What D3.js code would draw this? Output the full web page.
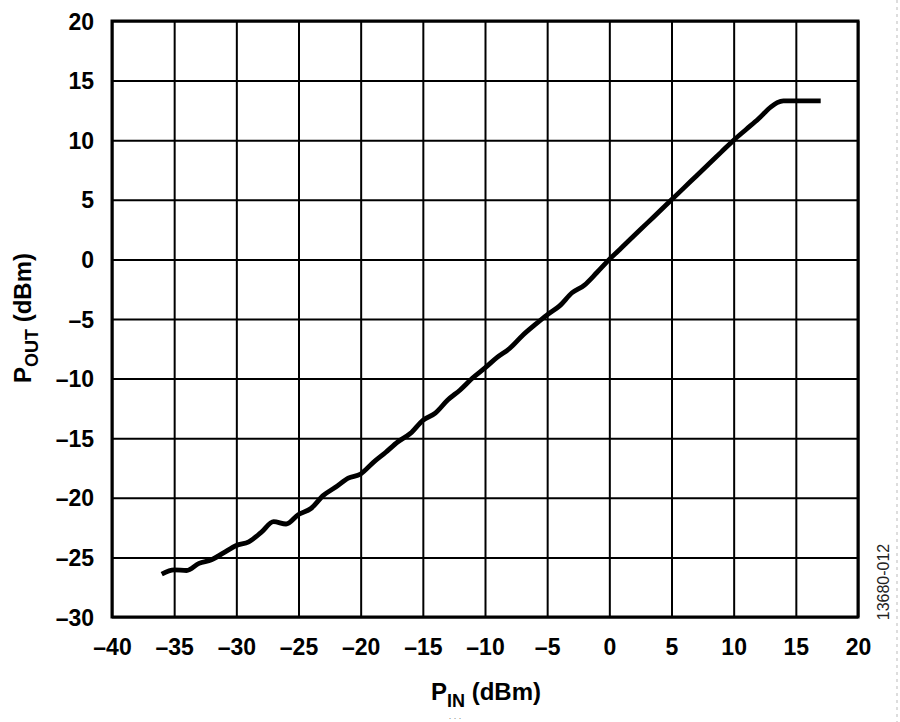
<!DOCTYPE html>
<meta charset="utf-8">
<head>
	<title>POUT vs PIN</title>
</head>

<style>

body {
	margin: 0;
	background: #fff;
}

svg {
	display: block;
	background-color: #fff;
	font-family: "Liberation Sans", Arial, sans-serif;
}

.grid line {
	stroke: #000;
	stroke-width: 2;
}

.grid path {
	display: none;
}

.tick text {
	font-size: 23px;
	font-weight: bold;
	fill: #000;
}

</style>

<body>

<svg class="chart" width="900" height="722"></svg>

<script src="https://cdnjs.cloudflare.com/ajax/libs/d3/7.8.5/d3.min.js"></script>
<script>

// P_IN (dBm) sweep, 1 dB steps
var pin = [
	-36, -35, -34, -33, -32, -31, -30, -29, -28, -27,
	-26, -25, -24, -23, -22, -21, -20, -19, -18, -17,
	-16, -15, -14, -13, -12, -11, -10, -9, -8, -7,
	-6, -5, -4, -3, -2, -1, 0, 1, 2, 3,
	4, 5, 6, 7, 8, 9, 10, 11, 12, 13,
	13.5, 14, 15, 16, 17
];

// P_OUT (dBm)
var pout = [
	-26.4, -26.05, -26.1, -25.5, -25.2, -24.6, -24.0, -23.7, -22.9, -22.0,
	-22.2, -21.4, -20.9, -19.8, -19.1, -18.35, -18.0, -17.05, -16.2, -15.3,
	-14.6, -13.5, -12.9, -11.8, -10.95, -9.95, -9.1, -8.2, -7.45, -6.4,
	-5.5, -4.65, -3.9, -2.8, -2.15, -1.1, 0.0, 1.0, 2.0, 3.0,
	4.0, 5.0, 6.0, 7.0, 8.0, 9.0, 10.0, 10.9, 11.8, 12.8,
	13.15, 13.3, 13.3, 13.3, 13.3
];

var xTicks = [-40, -35, -30, -25, -20, -15, -10, -5, 0, 5, 10, 15, 20];
var yTicks = [-30, -25, -20, -15, -10, -5, 0, 5, 10, 15, 20];

var margin = {top: 21, right: 42, bottom: 105, left: 112};
var svg = d3.select('.chart');
var width = +svg.attr('width') - margin.left - margin.right;
var height = +svg.attr('height') - margin.top - margin.bottom;

var x = d3.scaleLinear().domain([-40, 20]).range([0, width]);
var y = d3.scaleLinear().domain([-30, 20]).range([height, 0]);

var fmt = function(d) { return d < 0 ? '\u2013' + Math.abs(d) : String(d); };

var g = svg.append('g')
	.attr('transform', 'translate(' + margin.left + ',' + margin.top + ')');

// vertical grid + x tick labels
g.append('g')
	.attr('class', 'grid')
	.attr('transform', 'translate(0,' + height + ')')
	.call(d3.axisBottom(x).tickValues(xTicks).tickSize(-height).tickPadding(20).tickFormat(fmt))
	.selectAll('text')
	.attr('dy', '0.78em');

// horizontal grid + y tick labels
g.append('g')
	.attr('class', 'grid')
	.call(d3.axisLeft(y).tickValues(yTicks).tickSize(-width).tickPadding(18).tickFormat(fmt))
	.selectAll('text')
	.attr('dy', '0.35em');

// frame
g.append('rect')
	.attr('width', width)
	.attr('height', height)
	.attr('fill', 'none')
	.attr('stroke', '#000')
	.attr('stroke-width', 3);

// curve
var line = d3.line()
	.x(function(d, i) { return x(pin[i]); })
	.y(function(d) { return y(d); })
	.curve(d3.curveMonotoneX);

g.append('path')
	.datum(pout)
	.attr('fill', 'none')
	.attr('stroke', '#000')
	.attr('stroke-width', 4.8)
	.attr('stroke-linejoin', 'round')
	.attr('d', line);

// axis titles
var xt = svg.append('text')
	.attr('x', 486)
	.attr('y', 700)
	.attr('text-anchor', 'middle')
	.style('font-size', '24px')
	.style('font-weight', 'bold');
xt.append('tspan').text('P');
xt.append('tspan').attr('dy', 7).style('font-size', '18px').text('IN');
xt.append('tspan').attr('dy', -7).text(' (dBm)');

var yt = svg.append('text')
	.attr('transform', 'translate(31,318) rotate(-90)')
	.attr('text-anchor', 'middle')
	.style('font-size', '24px')
	.style('font-weight', 'bold');
yt.append('tspan').text('P');
yt.append('tspan').attr('dy', 7).style('font-size', '18px').text('OUT');
yt.append('tspan').attr('dy', -7).text(' (dBm)');

// figure id
svg.append('text')
	.attr('transform', 'translate(889,582) rotate(-90)')
	.attr('text-anchor', 'middle')
	.style('font-size', '16px')
	.style('fill', '#222')
	.text('13680-012');

// dashed page edge on the right
svg.append('line')
	.attr('x1', 897).attr('x2', 897)
	.attr('y1', 0).attr('y2', 722)
	.attr('stroke', '#bbb')
	.attr('stroke-width', 1)
	.attr('stroke-dasharray', '3,4');

svg.append('text')
	.attr('x', 455)
	.attr('y', 719)
	.attr('text-anchor', 'middle')
	.style('font-size', '9px')
	.style('fill', '#888')
	.text('. . .');

</script>

</body>
</html>
